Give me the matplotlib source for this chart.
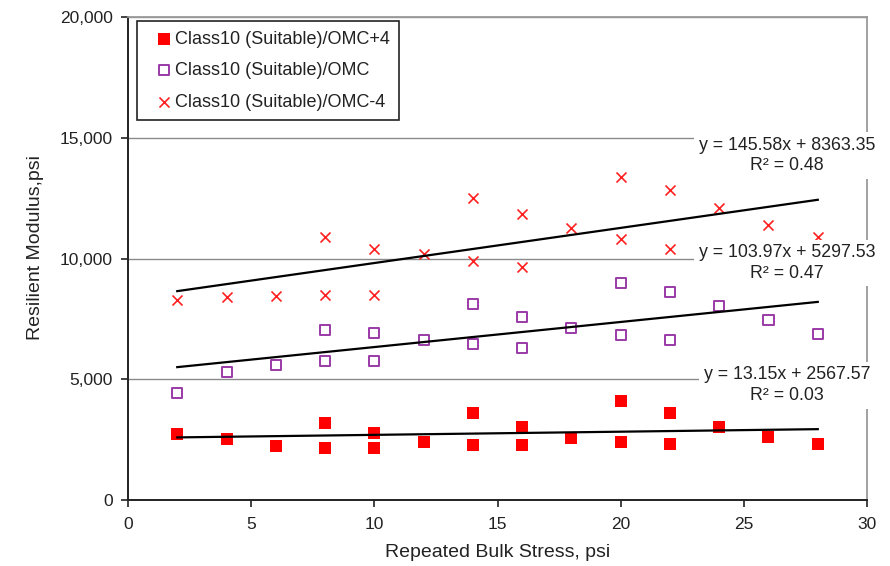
import matplotlib
matplotlib.use("Agg")
import matplotlib.pyplot as plt
import numpy as np
from matplotlib.ticker import FuncFormatter

plt.rcParams['font.family'] = ['Liberation Sans', 'DejaVu Sans']

# Data
x_plus4 = [2, 4, 6, 8, 8, 10, 10, 12, 14, 14, 16, 16, 18, 20, 20, 22, 22, 24, 26, 28]
y_plus4 = [2730, 2520, 2245, 3175, 2175, 2760, 2175, 2410, 3600, 2290,
           3010, 2290, 2565, 4090, 2385, 3605, 2315, 3035, 2590, 2340]

x_omc = [2, 4, 6, 8, 8, 10, 10, 12, 14, 14, 16, 16, 18, 20, 20, 22, 22, 24, 26, 28]
y_omc = [4420, 5320, 5610, 7030, 5740, 6915, 5780, 6650, 8110, 6460,
         7580, 6310, 7140, 9010, 6820, 8620, 6640, 8025, 7445, 6860]

x_minus4 = [2, 4, 6, 8, 8, 10, 10, 12, 14, 14, 16, 16, 18, 20, 20, 22, 22, 24, 26, 28]
y_minus4 = [8275, 8410, 8440, 8480, 10880, 8480, 10420, 10190, 12500, 9910,
            11840, 9660, 11255, 13375, 10810, 12850, 10420, 12085, 11390, 10900]

labels = ["Class10 (Suitable)/OMC+4", "Class10 (Suitable)/OMC", "Class10 (Suitable)/OMC-4"]

# Trendline coefficients (slope, intercept) and R^2 shown on chart
trend_slopes = [13.15, 103.97, 145.58]
trend_intercepts = [2567.57, 5297.53, 8363.35]
trend_r2 = [0.03, 0.47, 0.48]
trend_x_range = [2, 28]

x_ticks = [0, 5, 10, 15, 20, 25, 30]
y_ticks = [0, 5000, 10000, 15000, 20000]

fig = plt.figure(figsize=(8.9, 5.66), dpi=100)
ax = fig.add_axes([0.1438, 0.1166, 0.8304, 0.8528])

ax.set_xlim(0, 30)
ax.set_ylim(0, 20000)

# gridlines
ax.set_yticks(y_ticks)
ax.set_xticks(x_ticks)
ax.yaxis.grid(True, color='#8a8a8a', linewidth=1.0, zorder=0)
ax.set_axisbelow(True)

ax.scatter(x_plus4, y_plus4, marker='s', s=70, color='#ff0000', linewidths=0,
           label=labels[0], zorder=3)
ax.scatter(x_omc, y_omc, marker='s', s=52, facecolors='none', edgecolors='#9b3aa6',
           linewidths=1.4, label=labels[1], zorder=3)
ax.scatter(x_minus4, y_minus4, marker='x', s=52, color='#ff2020', linewidths=1.2,
           label=labels[2], zorder=3)

xr = np.array(trend_x_range, dtype=float)
for m, b in zip(trend_slopes, trend_intercepts):
    ax.plot(xr, m * xr + b, color='black', linewidth=1.6, zorder=4)

# equation labels
eq_pos_y = [0.238, 0.491, 0.7137]
for m, b, r2, yy in zip(trend_slopes, trend_intercepts, trend_r2, eq_pos_y):
    txt = f"y = {m:.2f}x + {b:.2f}\nR\u00b2 = {r2:.2f}"
    ax.text(0.8918, yy, txt, transform=ax.transAxes, ha='center', va='center',
            fontsize=12.8, color='#222222', linespacing=1.3, zorder=6, clip_on=False,
            bbox=dict(boxstyle='square,pad=0.25', facecolor='white', edgecolor='none'))

# spines
for s in ['left', 'bottom']:
    ax.spines[s].set_color('#222222')
    ax.spines[s].set_linewidth(1.4)
for s in ['top', 'right']:
    ax.spines[s].set_color('#9a9a9a')
    ax.spines[s].set_linewidth(1.3)

ax.tick_params(axis='both', direction='out', length=5, width=1.2, color='#222222',
               labelsize=12.5, labelcolor='#222222', top=False, right=False)
ax.tick_params(axis='x', pad=7)
ax.tick_params(axis='y', pad=6)
ax.yaxis.set_major_formatter(FuncFormatter(lambda v, p: f"{v:,.0f}"))

ax.set_xlabel("Repeated Bulk Stress, psi", fontsize=14, color='#222222', labelpad=9)
ax.set_ylabel("Resilient Modulus,psi", fontsize=14, color='#222222')
ax.yaxis.set_label_coords(-0.113, 0.523)

leg = ax.legend(loc='upper left', bbox_to_anchor=(0.0118, 0.993), borderaxespad=0,
                fontsize=13, frameon=True, fancybox=False, framealpha=1,
                edgecolor='#222222', handlelength=1.9, handletextpad=-0.35,
                labelspacing=0.8, borderpad=0.55, scatterpoints=1)
leg.get_frame().set_linewidth(1.2)
for t in leg.get_texts():
    t.set_color('#222222')

fig.savefig("out.png", dpi=100)
